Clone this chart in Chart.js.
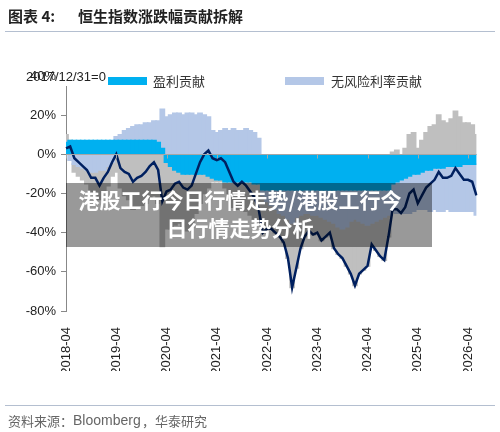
<!DOCTYPE html>
<html>
<head>
<meta charset="utf-8">
<script src="https://cdn.jsdelivr.net/npm/chart.js@4.4.1/dist/chart.umd.min.js"></script>
<style>
  html, body { margin: 0; padding: 0; background: #fff; }
</style>
</head>
<body>
<canvas id="myChart" width="500" height="432"></canvas>
<script>
const ctx = document.getElementById('myChart');

// monthly categories, 2018-04 .. 2026-06
const months = [];
for (let yr = 2018, m = 4; yr < 2026 || (yr === 2026 && m <= 6); ) {
  months.push(yr + '-' + String(m).padStart(2, '0'));
  if (++m > 12) { m = 1; yr++; }
}

// contributions, % (2017/12/31 = 0)
const earnings = [
  6, 7, 7, 7, 7, 7, 7, 7, 7, 7, 7, 7,
  7, 7, 7, 7, 7, 7, 7, 7, 7, 7, 6,
  3,
  -4, -6, -8, -9, -10, -10, -10, -10, -10, -10, -11,
  -12, -13, -13, -14, -14, -14, -14, -14, -14, -14, -15, -15,
  -18, -18, -18, -18, -18, -18, -18, -18, -18, -18, -18, -18, -18, -18, -18, -18,
  -18, -18, -18, -18, -18, -18, -18, -18, -18, -18, -18, -18, -18, -18, -18,
  -15, -14, -13, -12, -11, -10, -10, -9, -8, -8, -7, -7, -7, -6, -6, -6, -6, -5, -5, -5, -5
];
const riskFree = [
  0, -3, -5, -6, -7, -8, -9, -9, -8, -8, -6, -4,
  2, 3, 5, 6, 7, 8, 8, 9, 9, 10, 11,
  20,
  19, 20, 21, 21, 20, 21, 21, 20, 21, 20, 19,
  12, 11, 12, 13, 12, 13, 12, 12, 13, 12, 11, 8,
  -3, -6, -8, -10, -12, -13, -15, -17, -14, -13, -12, -12, -13, -13, -14, -15,
  -16, -17, -19, -20, -19, -16, -15, -16, -17, -18, -17, -16, -15, -14, -13,
  -14, -16, -17, -18, -19, -19, -18, -19, -20, -21, -21, -22, -22, -22, -23, -23, -23, -24, -24, -24, -26
];
const riskPremium = [
  4, 0, -4, -5, -6, -7, -10, -10, -15, -11, -10, -7,
  -9, -17, -21, -23, -28, -27, -26, -25, -22, -21, -25,
  -47,
  -34, -32, -28, -26, -27, -29, -27, -20, -15, -10, -6,
  -2, -1, -1, -3, -7, -13, -14, -12, -15, -17, -18, -21,
  -19, -14, -12, -12, -12, -14, -20, -33, -26, -17, -12, -9, -10, -9, -12, -9,
  -6, -13, -14, -15, -20, -27, -34, -27, -24, -21, -11, -15, -19, -22, -11,
  1, 2, 0, 3, 10, 11, 3, 7, 11, 14, 15, 20, 17, 16, 18, 22, 19, 16, 16, 15, 10
];
const hsiTotal = [
  3, 4, -2, -4, -6, -8, -12, -12, -16, -12, -9, -4,
  0, -7, -9, -10, -14, -12, -11, -9, -6, -4, -8,
  -24,
  -19, -18, -15, -14, -17, -18, -16, -10, -4, 0, 2,
  -2, -3, -2, -4, -9, -14, -16, -14, -16, -19, -22, -28,
  -40, -38, -38, -40, -42, -45, -53, -68, -58, -48, -42, -39, -41, -40, -44, -42,
  -40, -48, -51, -53, -57, -61, -67, -61, -59, -57, -46, -49, -52, -54, -42,
  -28, -28, -30, -27, -20, -18, -25, -21, -17, -15, -13, -9, -12, -12, -11, -7, -10, -13, -13, -14, -21
];

const colorEarn = '#00b0f0';
const colorRate = '#b4c7e7';
const colorPrem = '#bfbfbf';
const colorLine = '#002060';

// contributions as full-width stacked columns (positive and negative stack apart)
const band = (data, color) => ({
  type: 'bar',
  data: data,
  stack: 'parts',
  backgroundColor: color,
  borderWidth: 0,
  inflateAmount: 0.8,
  barPercentage: 1,
  categoryPercentage: 1,
  order: 1,
});

// zero line, title, legend, overlay, source
const decor = {
  id: 'decor',
  afterDatasetsDraw(chart) {
    const { ctx, chartArea: a, scales: { x, y } } = chart;
    const y0 = Math.round(y.getPixelForValue(0)) + 0.5;
    ctx.save();
    ctx.strokeStyle = '#a6a6a6';
    ctx.lineWidth = 1;
    ctx.beginPath();
    ctx.moveTo(a.left, y0);
    ctx.lineTo(a.right, y0);
    x.ticks.forEach((t, i) => {
      if (!t.label) return;
      const px = Math.round(x.getPixelForTick(i)) + 0.5;
      ctx.moveTo(px, y0);
      ctx.lineTo(px, y0 + 4);
    });
    ctx.stroke();
    ctx.restore();
  },
  afterDraw(chart) {
    const c = chart.ctx;
    c.save();
    // legend strip
    c.fillStyle = '#fff';
    c.fillRect(60, 66, 380, 20);
    c.textBaseline = 'middle';
    c.fillStyle = '#222';
    c.font = '13px "Liberation Sans", Arial, sans-serif';
    c.fillText('2017/12/31=0', 26, 77);
    c.fillStyle = colorEarn;
    c.fillRect(108, 77, 39, 8);
    c.fillStyle = colorRate;
    c.fillRect(285, 77, 39, 8);
    c.fillStyle = '#333';
    c.font = '13px "Noto Sans CJK SC", sans-serif';
    c.fillText('盈利贡献', 153, 81);
    c.fillText('无风险利率贡献', 331, 81);

    // overlay banner
    c.fillStyle = 'rgba(0,0,0,0.4)';
    c.fillRect(66, 183, 366, 64);
    c.fillStyle = '#fff';
    c.textAlign = 'center';
    c.font = 'bold 21px "Noto Sans CJK SC", sans-serif';
    c.fillText('港股工行今日行情走势/港股工行今', 240, 200);
    c.fillText('日行情走势分析', 240, 228);

    // title
    c.textAlign = 'left';
    c.fillStyle = '#222';
    c.font = 'bold 15px "Noto Sans CJK SC", sans-serif';
    c.fillText('图表 4:', 8, 16);
    c.fillText('恒生指数涨跌幅贡献拆解', 78, 16);
    c.strokeStyle = '#b4bfd0';
    c.lineWidth = 1;
    c.beginPath();
    c.moveTo(5, 31.5);
    c.lineTo(495, 31.5);
    c.moveTo(5, 405.5);
    c.lineTo(495, 405.5);
    c.stroke();

    // source
    c.fillStyle = '#666';
    c.font = '13px "Noto Sans CJK SC", sans-serif';
    c.fillText('资料来源：', 8, 421);
    c.font = '14px "Liberation Sans", Arial, sans-serif';
    c.fillText('Bloomberg', 73, 421);
    c.font = '13px "Noto Sans CJK SC", sans-serif';
    c.fillText('，华泰研究', 142, 421);
    c.restore();
  },
};

const config = {
  type: 'bar',
  data: {
    labels: months,
    datasets: [
      band(earnings, colorEarn),
      band(riskFree, colorRate),
      band(riskPremium, colorPrem),
      {
        type: 'line',
        data: hsiTotal,
        stack: 'total',
        fill: false,
        borderColor: colorLine,
        borderWidth: 2.5,
        pointRadius: 0,
        tension: 0,
        order: 0,
      },
    ],
  },
  options: {
    responsive: false,
    animation: false,
    devicePixelRatio: 1,
    layout: {
      autoPadding: false,
      padding: { left: 0, right: 15, top: 76, bottom: 61 },
    },
    scales: {
      x: {
        stacked: true,
        offset: false,
        grid: { display: false, offset: false },
        border: { display: false },
        afterFit: (scale) => { scale.height = 60; },
        ticks: {
          autoSkip: false,
          minRotation: 90,
          maxRotation: 90,
          padding: 8,
          color: '#222',
          font: { family: '"Liberation Sans", Arial, sans-serif', size: 13 },
          callback: function (val) {
            const l = this.getLabelForValue(val);
            return l.endsWith('-04') ? l : '';
          },
        },
      },
      y: {
        stacked: true,
        min: -80,
        max: 40,
        afterFit: (scale) => { scale.width = 66; },
        border: { display: true, color: '#888', width: 1 },
        grid: { drawOnChartArea: false, tickLength: 5, color: '#888' },
        ticks: {
          stepSize: 20,
          padding: 5,
          color: '#222',
          font: { family: '"Liberation Sans", Arial, sans-serif', size: 13 },
          callback: (v) => v + '%',
        },
      },
    },
    plugins: {
      legend: { display: false },
      tooltip: { enabled: false },
    },
  },
  plugins: [decor],
};

new Chart(ctx, config);
</script>
</body>
</html>
